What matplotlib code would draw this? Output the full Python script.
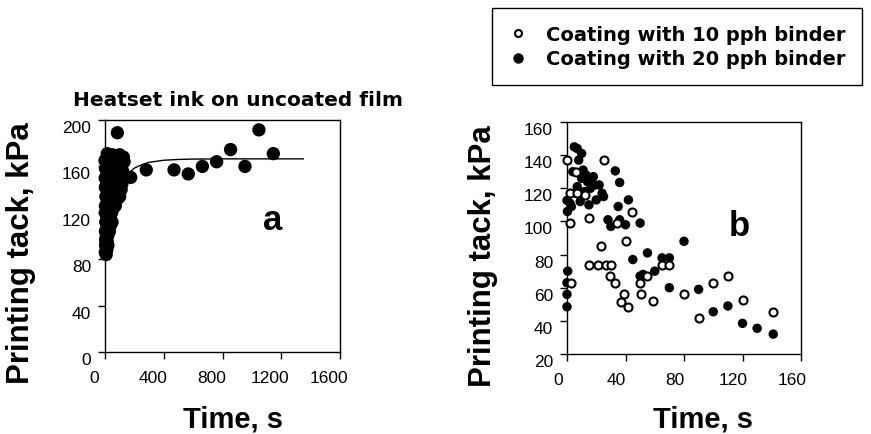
import matplotlib
matplotlib.use("Agg")
import matplotlib.pyplot as plt
from matplotlib.lines import Line2D
from matplotlib.transforms import ScaledTranslation

plt.rcParams['font.family'] = ['Liberation Sans', 'DejaVu Sans']

# panel a: heatset ink on uncoated film
cluster_t = [2, 8, 12, 4, 15, 6, 18, 3, 10, 25, 5, 20, 35, 8, 28, 45, 55, 3, 15, 38,
             60, 6, 25, 50, 75, 95, 2, 18, 40, 65, 90, 110, 10, 30, 55, 80, 105, 125,
             4, 22, 45, 70, 95, 120, 8, 35, 60, 85, 110, 130, 15, 50, 100, 125, 2, 1, 0,
             20, 14, 30, 40, 12, 48, 70, 85, 35, 100, 115, 75, 5]
cluster_y = [86, 84, 88, 92, 95, 98, 100, 104, 106, 108, 112, 114, 116, 120, 122, 120, 124, 126, 128, 130,
             130, 134, 136, 138, 136, 140, 142, 144, 146, 144, 142, 140, 150, 152, 150, 152, 148, 150,
             158, 160, 158, 160, 158, 156, 166, 168, 166, 168, 166, 164, 171, 170, 170, 168, 120, 150, 165,
             92, 102, 104, 110, 114, 112, 126, 132, 132, 134, 145, 146, 96]
late_t = [84, 175, 281, 470, 567, 663, 760, 855, 953, 1048, 1146]
late_y = [189, 150.5, 157, 157, 153.5, 160, 164, 174.5, 160, 191.5, 171]
fit_t = [0, 50, 100, 150, 200, 250, 300, 400, 500, 600, 800, 1000, 1200, 1350]
fit_y = [105, 130, 144, 153, 158.5, 161.5, 163.5, 165.3, 166, 166.3, 166.5, 166.5, 166.5, 166.5]

# panel b: coatings
pph20_t = [0, 0, 0, 0.5, 0.3, 0, 2, 3, 4, 5, 6, 7, 7, 8, 9, 10, 10, 11, 12, 13, 14, 15, 16,
           18, 19, 20, 24, 22, 25, 33, 36, 42, 35, 28, 36, 30, 40, 50,
           45, 55, 50, 52, 60, 65, 70, 70, 80, 90, 100, 110, 120, 130, 141]
pph20_y = [48.5, 56, 63, 70, 106, 112.7, 111, 109, 130, 145, 117, 121, 144, 137, 112, 126, 141, 131, 118, 128, 124, 110, 120,
           127, 122, 113, 117, 122, 115, 130.5, 123.5, 113, 109, 101, 101, 97, 98, 99,
           77, 81, 67, 68, 70, 78, 78, 60, 88, 59, 45.5, 49, 38.5, 35.5, 32]
pph10_t = [0, 2, 3, 25, 15, 6, 2, 7, 12, 34, 44.5,
           23, 15, 21, 27, 30, 29.5, 33, 37, 39, 41.5, 40,
           50, 50.5, 55, 58.5, 65, 70, 80, 90, 100, 110, 120, 141]
pph10_y = [137, 99, 63, 137, 102, 130, 117, 117, 116, 99, 105.5,
           85, 74, 74, 74, 74, 67, 63, 51.5, 56, 48.5, 88,
           63, 56, 67, 52, 74, 74, 56, 42, 63, 67, 52.5, 45.5]

fig = plt.figure(figsize=(8.71, 4.35), dpi=100)
ax1 = fig.add_axes([105/871, 1-353/435, 235/871, 232/435])
ax2 = fig.add_axes([567/871, 1-355/435, 234/871, 232/435])

ax1.scatter(cluster_t, cluster_y, s=92, c='black', edgecolors='none', clip_on=False, zorder=3)
ax1.scatter(late_t, late_y, s=92, c='black', edgecolors='none', clip_on=False, zorder=3)
ax1.plot(fit_t, fit_y, color='black', lw=1.0, zorder=2)
ax1.set_xlim(0, 1600)
ax1.set_ylim(0, 200)
ax1.set_xticks([0, 400, 800, 1200, 1600])
ax1.set_yticks([0, 40, 80, 120, 160, 200])
ax1.text(1144, 106, 'a', fontsize=25, fontweight='bold', ha='center', va='baseline')

ax2.scatter(pph20_t, pph20_y, s=6.8**2, c='black', edgecolors='none', clip_on=False, zorder=3)
ax2.scatter(pph10_t, pph10_y, s=5.8**2, facecolors='white', edgecolors='black',
            linewidths=1.5, clip_on=False, zorder=4)
ax2.set_xlim(0, 160)
ax2.set_ylim(20, 160)
ax2.set_xticks([0, 40, 80, 120, 160])
ax2.set_yticks([20, 40, 60, 80, 100, 120, 140, 160])
ax2.text(118, 92, 'b', fontsize=25, fontweight='bold', ha='center', va='baseline')

for ax, xshift in ((ax1, -11), (ax2, -9)):
    for s in ax.spines.values():
        s.set_linewidth(1.0)
    ax.tick_params(direction='out', length=5, width=1, labelsize=12.5, top=False, right=False)
    ax.tick_params(axis='x', pad=8)
    ax.tick_params(axis='y', pad=5)
    for lab in ax.get_xticklabels():
        lab.set_transform(lab.get_transform() + ScaledTranslation(xshift/100, 0, fig.dpi_scale_trans))
    for lab in ax.get_yticklabels():
        lab.set_transform(lab.get_transform() + ScaledTranslation(0, -6/100, fig.dpi_scale_trans))

# axis labels
fig.text(21/871, 1-253/435, 'Printing tack, kPa', rotation=90, fontsize=22.5, fontweight='bold',
         ha='center', va='center')
fig.text(483/871, 1-256/435, 'Printing tack, kPa', rotation=90, fontsize=22.5, fontweight='bold',
         ha='center', va='center')
fig.text(233/871, 1-428/435, 'Time, s', fontsize=21, fontweight='bold', ha='center', va='baseline')
fig.text(703/871, 1-428/435, 'Time, s', fontsize=21, fontweight='bold', ha='center', va='baseline')
fig.text(238/871, 1-106.5/435, 'Heatset ink on uncoated film', fontsize=14.5, fontweight='bold',
         family='DejaVu Sans', ha='center', va='baseline')

handles = [Line2D([], [], ls='none', marker='o', ms=5, mfc='white', mec='black', mew=1.5),
           Line2D([], [], ls='none', marker='o', ms=6.5, mfc='black', mec='black')]
leg = fig.legend(handles, ['Coating with 10 pph binder', 'Coating with 20 pph binder'],
                 loc='upper left', bbox_to_anchor=(492/871, 1-9/435), bbox_transform=fig.transFigure,
                 borderaxespad=0, borderpad=0.85, handlelength=1.0, handletextpad=0.95,
                 labelspacing=0.3, fancybox=False, framealpha=1, edgecolor='black',
                 prop={'family': 'DejaVu Sans', 'weight': 'bold', 'size': 14})
leg.get_frame().set_linewidth(1.0)

fig.savefig('out.png', dpi=100)
